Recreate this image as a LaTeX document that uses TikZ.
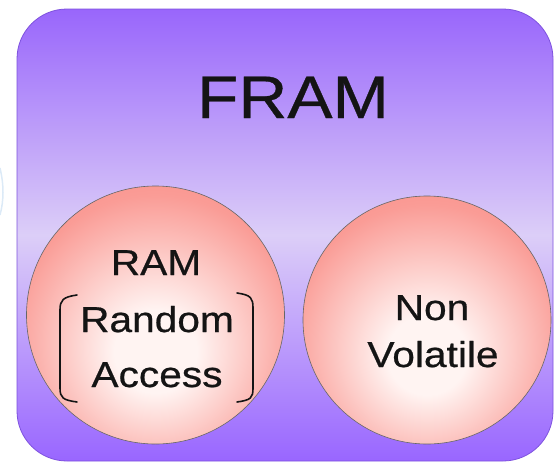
\documentclass[tikz,border=0pt]{standalone}
\usepackage{fontspec}
\setmainfont{Liberation Sans}[FakeStretch=1.13,FakeBold=0.6]
\usepackage{tikz}
\usetikzlibrary{calc}
\definecolor{boxtop}{HTML}{9966FB}
\definecolor{boxmid}{HTML}{DCCEF8}
\definecolor{boxbot}{HTML}{9966FF}
\definecolor{boxedge}{HTML}{7E52DE}
\definecolor{ballin}{HTML}{FFF4F2}
\definecolor{ballmid}{HTML}{FA9C96}
\definecolor{ballout}{HTML}{F77A75}
\definecolor{ink}{HTML}{141414}
\definecolor{faint}{HTML}{DCEAF7}
\pgfdeclareradialshading{pinkball}{\pgfpoint{0bp}{-8bp}}{color(0bp)=(ballin); color(8bp)=(ballin); color(28bp)=(ballmid); color(46bp)=(ballout); color(70bp)=(ballout)}
\tikzset{
  frame/.style={rounded corners=50pt, top color=boxtop, bottom color=boxbot, middle color=boxmid, draw=boxedge, line width=0.8pt},
  ball/.style={circle, shade, shading=pinkball, draw=black!60, line width=0.6pt, inner sep=0pt},
  title/.style={text=ink, font=\fontsize{60}{60}\selectfont, anchor=base},
  lab/.style={text=ink, font=\fontsize{36}{40}\selectfont, anchor=base},
  brk/.style={draw=ink, line width=1.6pt, line cap=round},
}

\begin{document}
\begin{tikzpicture}[x=1pt,y=-1pt]
  \useasboundingbox (0,0) rectangle (556,466);
  \path[frame] (17,9) rectangle (553,461);
  \draw[faint, line width=1.5pt] (0,168) .. controls (4,185) and (4,200) .. (0,215);
  % the two balls
  \node[ball, minimum size=258pt] (ram) at (155.5,315) {};
  \node[ball, minimum size=248pt] (nv) at (427,320) {};
  \node[title] (fram) at (293,118) {FRAM};
  \node[lab] (ramA) at (156,275) {RAM};
  \node[lab] (ramB) at (157,332) {Random};
  \node[lab] (ramC) at (157,387) {Access};
  \node[lab] (nvA) at (432,320) {Non};
  \node[lab] (nvB) at (433,367) {Volatile};
  % brackets round Random Access
  \draw[brk] (77,295) .. controls (63,297) and (60,300) .. (60,310) -- (60,388) .. controls (60,398) and (63,400) .. (77,402);
  \draw[brk] (237,293) .. controls (251,295) and (253,298) .. (253,308) -- (253,388) .. controls (253,398) and (251,400) .. (237,402);
\end{tikzpicture}
\end{document}
